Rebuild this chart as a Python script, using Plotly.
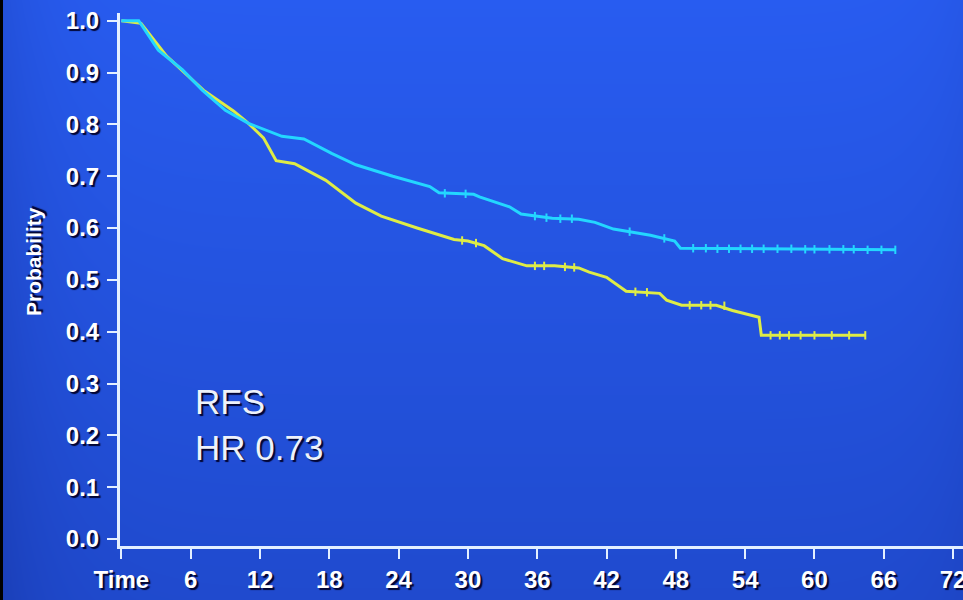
import numpy as np
import plotly.graph_objects as go

# ---------------- data ----------------
blue_t = [0, 1.5, 3.2, 5.3, 7.0, 9.0, 11.0, 12.5, 13.9, 15.8, 18.2, 20.3, 23.5, 26.7,
          27.5, 30.5, 31.0, 33.6, 34.6, 37.3, 39.6, 41.0, 42.6, 45.8, 47.9, 48.4, 67.0]
blue_s = [1.0, 1.0, 0.943, 0.905, 0.866, 0.827, 0.802, 0.789, 0.777, 0.772, 0.744, 0.722,
          0.700, 0.680, 0.668, 0.665, 0.660, 0.641, 0.627, 0.619, 0.617, 0.611, 0.598,
          0.586, 0.575, 0.561, 0.558]

yellow_t = [0, 1.7, 3.9, 7.1, 9.7, 10.8, 12.3, 13.4, 15.0, 17.7, 20.3, 22.5, 25.6, 28.8,
            30.0, 31.4, 33.0, 35.1, 37.5, 39.6, 40.5, 42.0, 43.7, 46.6, 47.2, 48.5, 51.5,
            52.9, 55.2, 55.4, 64.4]
yellow_s = [1.0, 0.995, 0.932, 0.866, 0.826, 0.806, 0.774, 0.730, 0.724, 0.692, 0.648,
            0.623, 0.600, 0.578, 0.575, 0.566, 0.541, 0.527, 0.527, 0.523, 0.515, 0.505,
            0.478, 0.474, 0.461, 0.451, 0.451, 0.441, 0.428, 0.393, 0.393]

blue_cens_t = [28.0, 29.8, 35.8, 36.8, 38.0, 39.0, 44.0, 47.0, 49.5, 50.6, 51.6, 52.6, 53.6,
               54.6, 55.6, 56.8, 58.0, 59.2, 60.0, 61.3, 62.5, 63.4, 64.6, 65.8, 67.0]
blue_cens_s = [0.667, 0.666, 0.623, 0.620, 0.618, 0.618, 0.593, 0.580, 0.561, 0.561, 0.560,
               0.560, 0.560, 0.560, 0.560, 0.560, 0.560, 0.559, 0.559, 0.559, 0.559, 0.559,
               0.558, 0.558, 0.558]

yellow_cens_t = [29.5, 30.7, 35.8, 36.6, 38.4, 39.2, 44.5, 45.5, 49.2, 50.2, 51.0, 52.2,
                 56.2, 57.0, 57.8, 58.8, 60.0, 61.5, 63.0, 64.4]
yellow_cens_s = [0.576, 0.571, 0.527, 0.527, 0.525, 0.524, 0.477, 0.476, 0.451, 0.451,
                 0.451, 0.450, 0.393, 0.393, 0.393, 0.393, 0.393, 0.393, 0.393, 0.393]

x_tickvals = [0, 6, 12, 18, 24, 30, 36, 42, 48, 54, 60, 66, 72]
x_ticktext = ["Time", "6", "12", "18", "24", "30", "36", "42", "48", "54", "60", "66", "72"]
y_tickvals = [0.0, 0.1, 0.2, 0.3, 0.4, 0.5, 0.6, 0.7, 0.8, 0.9, 1.0]
y_ticktext = ["0.0", "0.1", "0.2", "0.3", "0.4", "0.5", "0.6", "0.7", "0.8", "0.9", "1.0"]

y_title = "Probability"
note_lines = ["RFS", "HR 0.73"]

# ---------------- styling ----------------
W, H = 963, 600
BLUE = "rgb(35,215,255)"
YELLOW = "rgb(222,236,70)"
AXIS = "rgb(228,240,255)"
SHADOW = "2px 2px 1px rgba(0,0,40,0.95)"
FAMILY = "Liberation Sans, Arial, sans-serif"

# background gradient (decoration only)
gx = np.linspace(0, 1, 80)
gy = np.linspace(0, 1, 60)
GX, GY = np.meshgrid(gx, gy)
Z = 0.62 + 0.38 * GY - 0.25 * np.exp(-GX / 0.05) - 0.10 * np.exp(-(1 - GX) / 0.04)
Z = np.clip(Z, 0, 1)

fig = go.Figure()
fig.add_trace(go.Heatmap(
    x=gx, y=gy, z=Z, zmin=0, zmax=1, zsmooth="best", showscale=False, hoverinfo="skip",
    colorscale=[[0, "rgb(18,45,150)"], [1, "rgb(40,92,240)"]], xaxis="x", yaxis="y"))

fig.add_trace(go.Scatter(x=yellow_t, y=yellow_s, mode="lines", xaxis="x2", yaxis="y2",
                         line=dict(color=YELLOW, width=3), showlegend=False))
fig.add_trace(go.Scatter(x=yellow_cens_t, y=yellow_cens_s, mode="markers", xaxis="x2", yaxis="y2",
                         marker=dict(symbol="line-ns", size=6, line=dict(color=YELLOW, width=2)),
                         showlegend=False))
fig.add_trace(go.Scatter(x=blue_t, y=blue_s, mode="lines", xaxis="x2", yaxis="y2",
                         line=dict(color=BLUE, width=3), showlegend=False))
fig.add_trace(go.Scatter(x=blue_cens_t, y=blue_cens_s, mode="markers", xaxis="x2", yaxis="y2",
                         marker=dict(symbol="line-ns", size=6, line=dict(color=BLUE, width=2)),
                         showlegend=False))

tickfont = dict(family=FAMILY, size=24, color="white", weight="bold", shadow=SHADOW)

fig.update_layout(
    template="none",
    width=W, height=H, autosize=False,
    margin=dict(l=0, r=0, t=0, b=0, pad=0, autoexpand=False),
    paper_bgcolor="rgb(30,72,210)", plot_bgcolor="rgba(0,0,0,0)",
    showlegend=False,
    xaxis=dict(domain=[0, 1], range=[0, 1], visible=False, fixedrange=True, automargin=False),
    yaxis=dict(domain=[0, 1], range=[0, 1], visible=False, fixedrange=True, automargin=False),
    xaxis2=dict(domain=[120 / W, 1], anchor="y2", range=[-0.12, 72.86], automargin=False,
                tickmode="array", tickvals=x_tickvals, ticktext=x_ticktext,
                ticks="outside", ticklen=10, tickwidth=2, tickcolor=AXIS,
                showline=True, linecolor=AXIS, linewidth=3, showgrid=False, zeroline=False,
                tickfont=tickfont, ticklabelstandoff=0, ticklabeloverflow="allow"),
    yaxis2=dict(domain=[54 / H, 587 / H], anchor="x2", range=[-0.0135, 1.0149], automargin=False,
                tickmode="array", tickvals=y_tickvals, ticktext=y_ticktext,
                ticks="outside", ticklen=10, tickwidth=2, tickcolor=AXIS,
                showline=True, linecolor=AXIS, linewidth=3, showgrid=False, zeroline=False,
                tickfont=tickfont, ticklabelstandoff=3, ticklabeloverflow="allow"),
    shapes=[dict(type="rect", xref="paper", yref="paper", x0=0, x1=3 / W, y0=0, y1=1,
                 fillcolor="black", line=dict(width=0), layer="above")],
    annotations=[
        dict(text=y_title, xref="paper", yref="paper", x=33 / W, y=1 - 262 / H,
             textangle=-90, showarrow=False, xanchor="center", yanchor="middle",
             font=dict(family=FAMILY, size=21, color="white", weight="bold", shadow=SHADOW)),
        dict(text="<br>".join(note_lines), xref="paper", yref="paper", x=193 / W,
             y=1 - 424 / H, showarrow=False, xanchor="left", yanchor="middle", align="left",
             font=dict(family=FAMILY, size=35, color="rgb(238,242,250)", shadow=SHADOW)),
    ],
)

fig.write_html("out.html", config={"displayModeBar": False},
               post_script="document.body.style.margin='0px';")
